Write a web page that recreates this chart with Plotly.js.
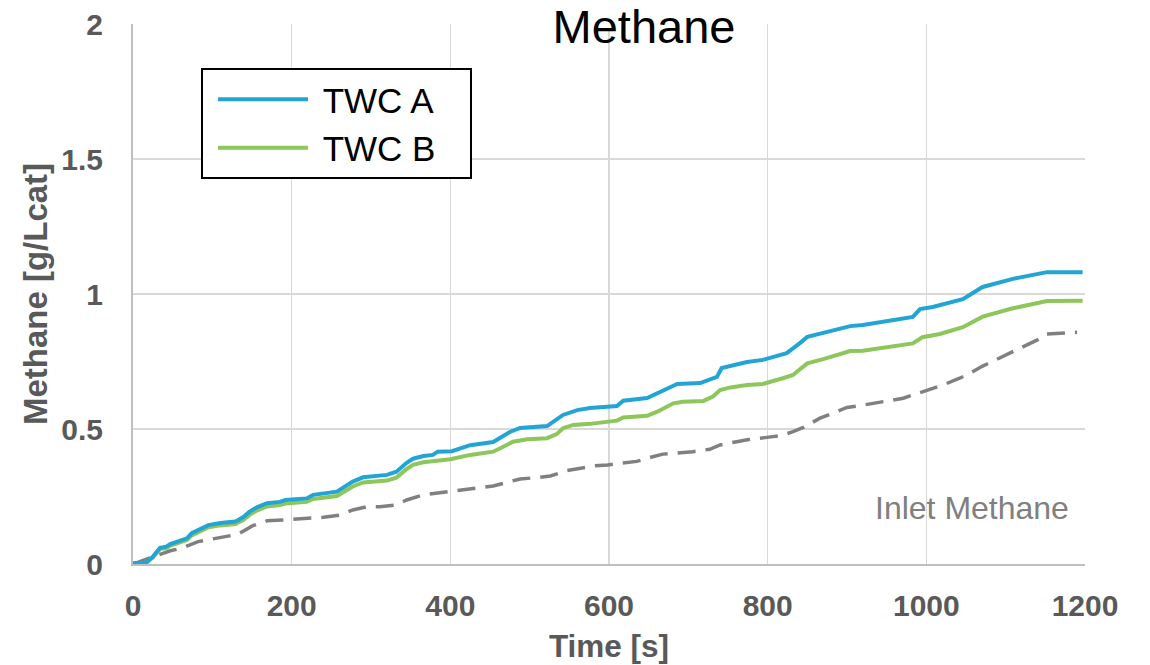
<!DOCTYPE html>
<html>
<head>
<meta charset="utf-8">
<script src="https://cdn.plot.ly/plotly-3.0.1.min.js"></script>
<style>html,body{margin:0;padding:0;background:#fff;}#chart{width:1150px;height:665px;}</style>
</head>
<body>
<div id="chart"></div>
<script>
// TWC A (blue)
const timeA = [0,17,25,34,42,47,68,74,95,110,129,139,147,156,169,185,192,219,227,257,277,290,320,332,345,353,366,378,384,402,425,454,475,488,522,542,560,576,610,618,648,668,686,715,736,742,761,774,794,807,824,841,850,870,904,920,983,992,1008,1046,1071,1109,1152,1197];
const valA  = [0.003,0.006,0.027,0.060,0.064,0.074,0.095,0.114,0.144,0.152,0.157,0.174,0.194,0.210,0.225,0.230,0.237,0.243,0.256,0.268,0.305,0.321,0.330,0.342,0.375,0.390,0.400,0.404,0.416,0.418,0.440,0.452,0.489,0.504,0.511,0.552,0.570,0.578,0.585,0.605,0.615,0.644,0.667,0.670,0.693,0.726,0.741,0.748,0.756,0.767,0.781,0.819,0.841,0.856,0.881,0.885,0.915,0.944,0.952,0.981,1.026,1.056,1.081,1.081];
// TWC B (green)
const timeB = [0,17,25,34,42,47,68,74,95,110,129,139,147,156,169,185,192,219,227,257,277,290,320,332,345,353,366,378,384,400,425,454,463,479,497,522,534,542,555,576,610,618,648,661,681,693,719,731,740,753,774,794,819,832,841,850,870,904,920,983,995,1017,1046,1071,1109,1152,1197];
const valB  = [0.003,0.005,0.024,0.055,0.059,0.068,0.089,0.106,0.136,0.143,0.148,0.163,0.182,0.198,0.213,0.218,0.224,0.230,0.241,0.252,0.287,0.302,0.309,0.320,0.352,0.367,0.377,0.381,0.386,0.388,0.404,0.416,0.429,0.453,0.462,0.466,0.481,0.503,0.515,0.519,0.531,0.543,0.549,0.564,0.595,0.601,0.604,0.620,0.644,0.654,0.663,0.667,0.688,0.700,0.722,0.743,0.759,0.789,0.790,0.817,0.840,0.852,0.877,0.916,0.947,0.974,0.975];
// Inlet methane (grey dashed)
const timeIn = [0,25,47,61,82,97,118,132,151,169,188,206,225,240,261,277,295,311,332,345,366,383,403,421,441,454,475,488,513,526,547,560,580,598,618,635,655,668,690,706,727,740,761,778,799,816,832,845,866,879,900,913,938,950,971,983,1005,1021,1042,1055,1071,1106,1140,1152,1172,1190];
const valIn  = [0,0.025,0.049,0.058,0.083,0.091,0.101,0.110,0.142,0.160,0.163,0.167,0.169,0.173,0.181,0.200,0.212,0.212,0.219,0.237,0.256,0.262,0.270,0.277,0.283,0.289,0.305,0.315,0.321,0.326,0.346,0.354,0.363,0.367,0.375,0.380,0.397,0.407,0.412,0.416,0.425,0.441,0.453,0.462,0.469,0.475,0.490,0.506,0.540,0.556,0.580,0.585,0.597,0.604,0.614,0.626,0.648,0.663,0.688,0.706,0.733,0.783,0.830,0.852,0.854,0.858];

const xTicks = [0,200,400,600,800,1000,1200];
const yTicks = [0,0.5,1,1.5,2];
const seriesNames = ['TWC A','TWC B'];
const inletLabel = 'Inlet Methane';

const FONT = 'Liberation Sans, Arial, Helvetica, sans-serif';
const GREY = '#595959';
const NB = '\u00a0';

const traces = [
  {x: timeIn, y: valIn, type: 'scatter', mode: 'lines', name: inletLabel, showlegend: false,
   line: {color: '#808080', width: 3.5, dash: '18px,10px'}, hoverinfo: 'skip'},
  {x: timeB, y: valB, type: 'scatter', mode: 'lines', name: NB + seriesNames[1] + NB + NB + NB,
   line: {color: '#8DC65A', width: 4}},
  {x: timeA, y: valA, type: 'scatter', mode: 'lines', name: NB + seriesNames[0] + NB + NB + NB,
   line: {color: '#22A4D5', width: 4}}
];

const layout = {
  width: 1150, height: 665,
  margin: {l: 133, r: 65, t: 24, b: 101},
  paper_bgcolor: '#fff', plot_bgcolor: '#fff',
  font: {family: FONT},
  title: {text: 'Methane', font: {family: FONT, size: 47, color: '#000'},
          x: 0.560, xanchor: 'center', y: 0.960, yanchor: 'middle'},
  xaxis: {
    range: [0, 1200], tickvals: xTicks, ticktext: xTicks.map(String),
    showgrid: true, gridcolor: '#d9d9d9', gridwidth: 1.5, zeroline: false,
    showline: true, linecolor: '#bfbfbf', linewidth: 2, ticks: '',
    tickfont: {family: FONT, size: 30, color: GREY, weight: 'bold'},
    ticklabelstandoff: 14,
    title: {text: 'Time [s]', font: {family: FONT, size: 31.5, color: GREY, weight: 'bold'}, standoff: 14}
  },
  yaxis: {
    range: [0, 2], tickvals: yTicks, ticktext: ['0','0.5','1','1.5','2'],
    showgrid: true, gridcolor: '#d9d9d9', gridwidth: 1.5, zeroline: false,
    showline: true, linecolor: '#bfbfbf', linewidth: 2, ticks: '',
    tickfont: {family: FONT, size: 30, color: GREY, weight: 'bold'},
    ticklabelstandoff: 22,
    title: {text: 'Methane [g/Lcat]', font: {family: FONT, size: 33, color: GREY, weight: 'bold'}, standoff: 4}
  },
  legend: {
    x: 0.0714, y: 0.9185, xanchor: 'left', yanchor: 'top',
    bgcolor: '#fff', bordercolor: '#000', borderwidth: 2,
    font: {family: FONT, size: 35, color: '#000'},
    traceorder: 'reversed', itemwidth: 90, tracegroupgap: 0, indentation: 10
  },
  shapes: [
    {type: 'rect', xref: 'paper', yref: 'paper', x0: 0.439, x1: 0.637, y0: 0.99, y1: 1.01,
     fillcolor: '#fff', line: {width: 0}, layer: 'above'}
  ],
  annotations: [
    {text: inletLabel, x: 1058, y: 0.207, xref: 'x', yref: 'y', showarrow: false,
     font: {family: FONT, size: 32, color: '#808080'}, xanchor: 'center', yanchor: 'middle'}
  ]
};

Plotly.newPlot('chart', traces, layout, {displayModeBar: false, staticPlot: true});
</script>
</body>
</html>
